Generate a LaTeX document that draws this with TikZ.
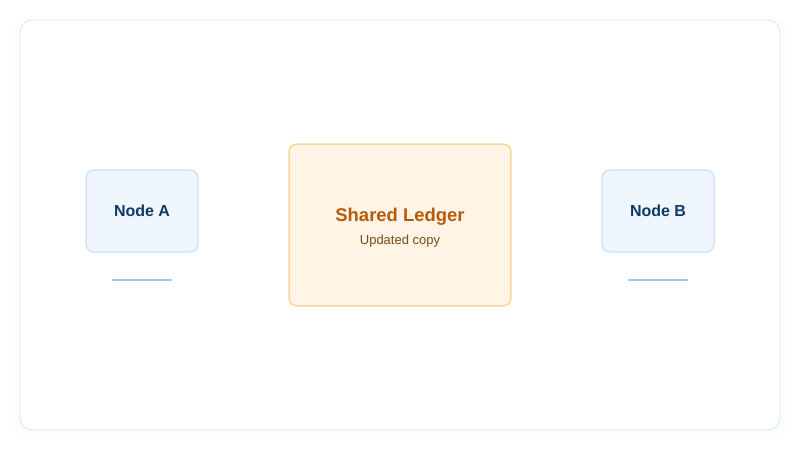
\documentclass[tikz,border=0pt]{standalone}
\usepackage{fontspec}
\setmainfont{Liberation Sans}
\usetikzlibrary{positioning}

\definecolor{cardline}{HTML}{DDE8F7}
\definecolor{peerfill}{HTML}{F0F6FE}
\definecolor{peerline}{HTML}{CFE3FA}
\definecolor{peertext}{HTML}{0E3A68}
\definecolor{peerbar}{HTML}{9CC8F8}
\definecolor{ledgerfill}{HTML}{FFF4E6}
\definecolor{ledgerline}{HTML}{FCD699}
\definecolor{ledgertext}{HTML}{B85A0A}
\definecolor{ledgersub}{HTML}{7A4A15}

\tikzset{every picture/.style={line width=0.85pt}}
\tikzset{
	peer/.style={draw=peerline, fill=peerfill, rounded corners=4.5pt, minimum width=2.24cm, minimum height=1.64cm, text=peertext, font=\fontsize{9.1}{11}\selectfont\bfseries},
	ledger/.style={draw=ledgerline, fill=ledgerfill, rounded corners=4.5pt, minimum width=4.44cm, minimum height=3.24cm},
	peerbar/.style={draw=peerbar, line width=1.1pt}
}

\begin{document}
\begin{tikzpicture}[x=0.02cm, y=-0.02cm]
		%\draw [help lines] (0,0) grid (800,450);
		\useasboundingbox (0,0) rectangle (800,450);

		% card with soft shadow
		\foreach \s/\o in {10/0.02, 7/0.03, 4/0.04, 2/0.05}
			\fill[cardline, opacity=\o, rounded corners=8pt] (20-\s,23-\s) rectangle (780+\s,433+\s);
		\filldraw[draw=cardline, fill=white, line width=0.55pt, rounded corners=7pt] (20,20) rectangle (780,430);

		% peers and ledger
		\node[peer] (nodeA) at (142,211) {Node A};
		\node[peer] (nodeB) at (658,211) {Node B};
		\node[ledger] (ledger) at (400,225) {};
		\node[text=ledgertext, font=\fontsize{10.5}{12}\selectfont\bfseries] (ledgerTitle) at (400,216.5) {Shared Ledger};
		\node[text=ledgersub, font=\fontsize{7.4}{9}\selectfont] (ledgerSub) at (400,241.5) {Updated copy};

		% bars under peers
		\coordinate (barAl) at (112,280);
		\coordinate (barAr) at (172,280);
		\coordinate (barBl) at (628,280);
		\coordinate (barBr) at (688,280);
		\draw[peerbar] (barAl) -- (barAr);
		\draw[peerbar] (barBl) -- (barBr);
	\end{tikzpicture}
\end{document}
